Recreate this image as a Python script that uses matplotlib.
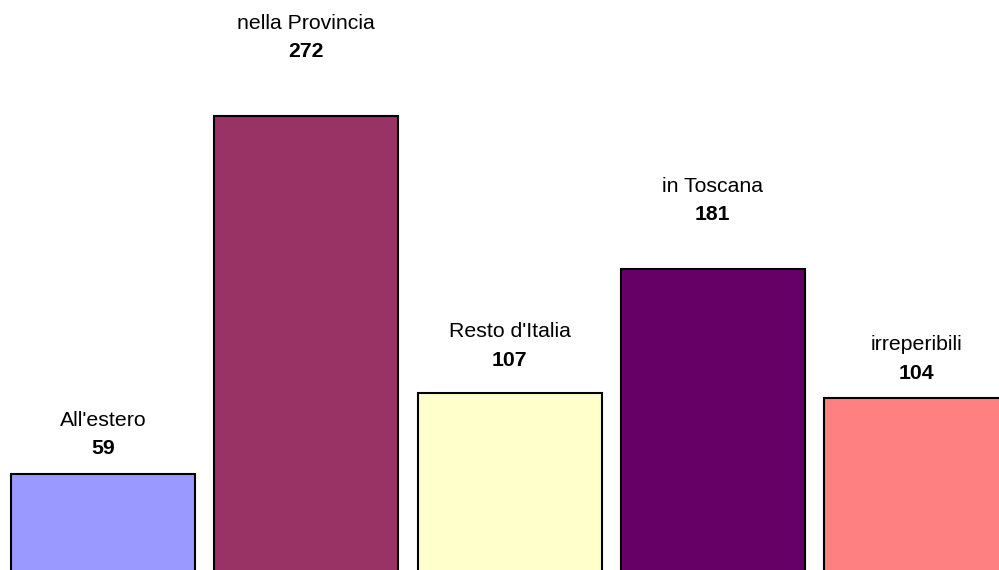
import matplotlib
matplotlib.use("Agg")
import matplotlib.pyplot as plt

categories = ["All'estero", "nella Provincia", "Resto d'Italia", "in Toscana", "irreperibili"]
values = [59, 272, 107, 181, 104]
colors = ["#9999FF", "#993366", "#FFFFCC", "#660066", "#FF8080"]
# label gap above each bar (pixels), as in the reference
label_gap_px = [25, 64, 33, 54, 25]

plt.rcParams['font.family'] = ['Liberation Sans', 'DejaVu Sans']
fig = plt.figure(figsize=(9.99, 5.70), dpi=100)
ax = fig.add_axes([0, 0, 1, 1])
x = list(range(len(categories)))
ax.bar(x, values, width=0.905, color=colors, edgecolor="black", linewidth=1.5)
ax.set_xlim(-0.507, 4.408)
ax.set_ylim(1.78, 340.9)
ax.axis("off")

fs = 15.3
for xi, v, c, g in zip(x, values, categories, label_gap_px):
    ax.annotate(str(v), (xi, v), xytext=(0, g * 0.72), textcoords="offset points",
                ha="center", va="center", fontsize=fs, fontweight="bold")
    ax.annotate(c, (xi, v), xytext=(0, (g + 28.5) * 0.72), textcoords="offset points",
                ha="center", va="center", fontsize=fs)

fig.savefig("out.png", dpi=100)
